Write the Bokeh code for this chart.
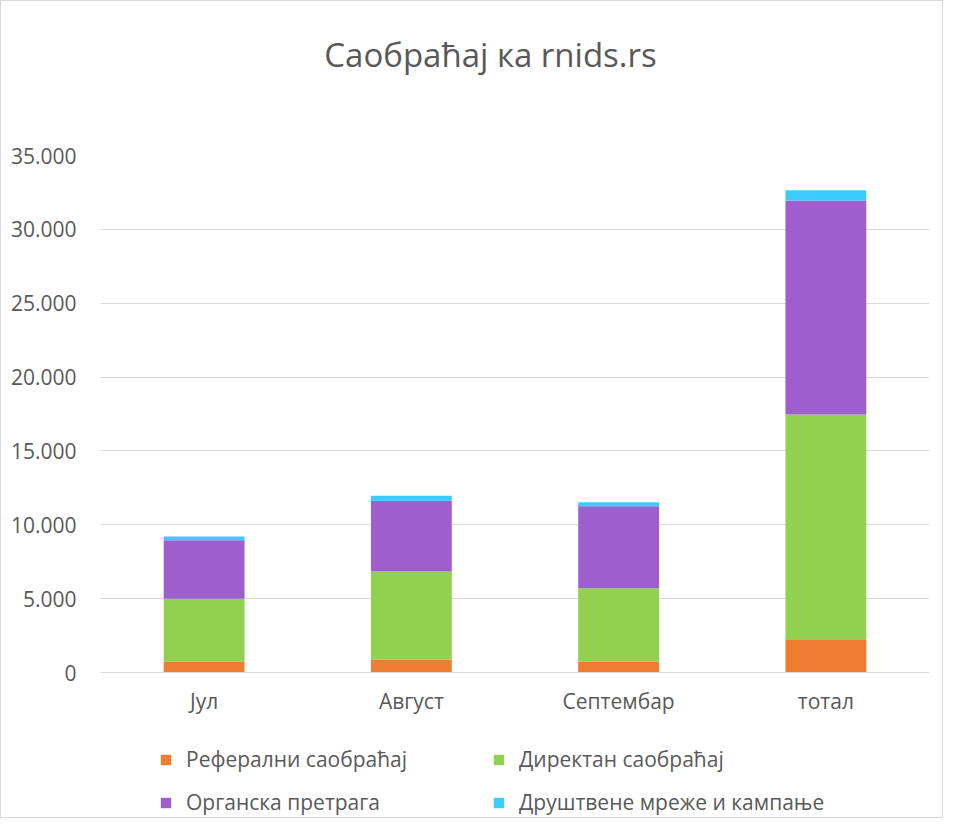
from bokeh.plotting import figure
from bokeh.layouts import column
from bokeh.models import Legend, LegendItem, FixedTicker, Label, Range1d
from bokeh.embed import file_html
from bokeh.resources import INLINE

title_text = "Саобраћај ка rnids.rs"
categories = ["Јул", "Август", "Септембар", "тотал"]
series_names = ["Реферални саобраћај", "Директан саобраћај", "Органска претрага", "Друштвене мреже и кампање"]
referral = [750, 880, 720, 2250]
direct = [4250, 5950, 4980, 15220]
organic = [3950, 4800, 5560, 14490]
social = [250, 330, 270, 680]
colors = ["#ED7D31", "#92D050", "#9E5ECE", "#3BCBFF"]
y_ticks = [0, 5000, 10000, 15000, 20000, 25000, 30000, 35000]
y_tick_labels = ["0", "5.000", "10.000", "15.000", "20.000", "25.000", "30.000", "35.000"]

FONT = "Open Sans"
GRAY = "#595959"


def blank(height):
    f = figure(width=941, height=height, output_backend="svg", toolbar_location=None,
               x_axis_location=None, y_axis_location=None,
               min_border=0, x_range=Range1d(0, 1), y_range=Range1d(0, 1))
    f.outline_line_color = None
    f.xgrid.grid_line_color = None
    f.ygrid.grid_line_color = None
    return f


# title panel
t = blank(90)
t.add_layout(Label(x=390, y=37, x_units="screen", y_units="screen", text=title_text,
                   text_align="center", text_baseline="middle", text_font=FONT,
                   text_font_size="33px", text_color=GRAY))

data = {"cat": categories, "s0": referral, "s1": direct, "s2": organic, "s3": social}

p = figure(x_range=categories, width=941, height=626, output_backend="svg",
           toolbar_location=None, min_border_left=99, min_border_right=13,
           min_border_top=64, min_border_bottom=45)
p.y_range = Range1d(0, 35000)

renderers = p.vbar_stack(["s0", "s1", "s2", "s3"], x="cat", width=0.39, color=colors,
                         line_color=None, source=data)

p.outline_line_color = None
p.xgrid.grid_line_color = None
p.ygrid.grid_line_color = "#D9D9D9"
p.ygrid.grid_line_width = 1
p.ygrid.ticker = FixedTicker(ticks=y_ticks)

p.yaxis.ticker = FixedTicker(ticks=y_ticks)
p.yaxis.major_label_overrides = {tk: lb for tk, lb in zip(y_ticks, y_tick_labels)}
p.yaxis.axis_line_color = None
p.yaxis.major_tick_line_color = None
p.yaxis.minor_tick_line_color = None
p.yaxis.major_label_text_font = FONT
p.yaxis.major_label_text_font_size = "21px"
p.yaxis.major_label_text_color = GRAY
p.yaxis.major_label_standoff = 18

p.xaxis.axis_line_color = "#D9D9D9"
p.xaxis.major_tick_line_color = None
p.xaxis.minor_tick_line_color = None
p.xaxis.major_label_text_font = FONT
p.xaxis.major_label_text_font_size = "21px"
p.xaxis.major_label_text_color = GRAY
p.xaxis.major_label_standoff = 8

# legend panel
q = blank(100)
leg_renderers = [q.vbar(x=[0], top=[0], bottom=[0], width=0, color=c, line_color=None)
                 for c in colors]
order = [0, 2, 1, 3]
items = [LegendItem(label=series_names[i], renderers=[leg_renderers[i]]) for i in order]
legend = Legend(items=items, ncols=2, location=(59, 1),
                label_text_font=FONT, label_text_font_size="21px", label_text_color=GRAY,
                glyph_width=13, glyph_height=13, label_width=291, spacing=15,
                label_standoff=14, border_line_color=None, background_fill_alpha=0,
                margin=0, padding=0)
q.add_layout(legend, "center")

layout = column(t, p, q, spacing=0, styles={"border": "1px solid #D9D9D9"})

open("out.html", "w").write(file_html(layout, INLINE))
